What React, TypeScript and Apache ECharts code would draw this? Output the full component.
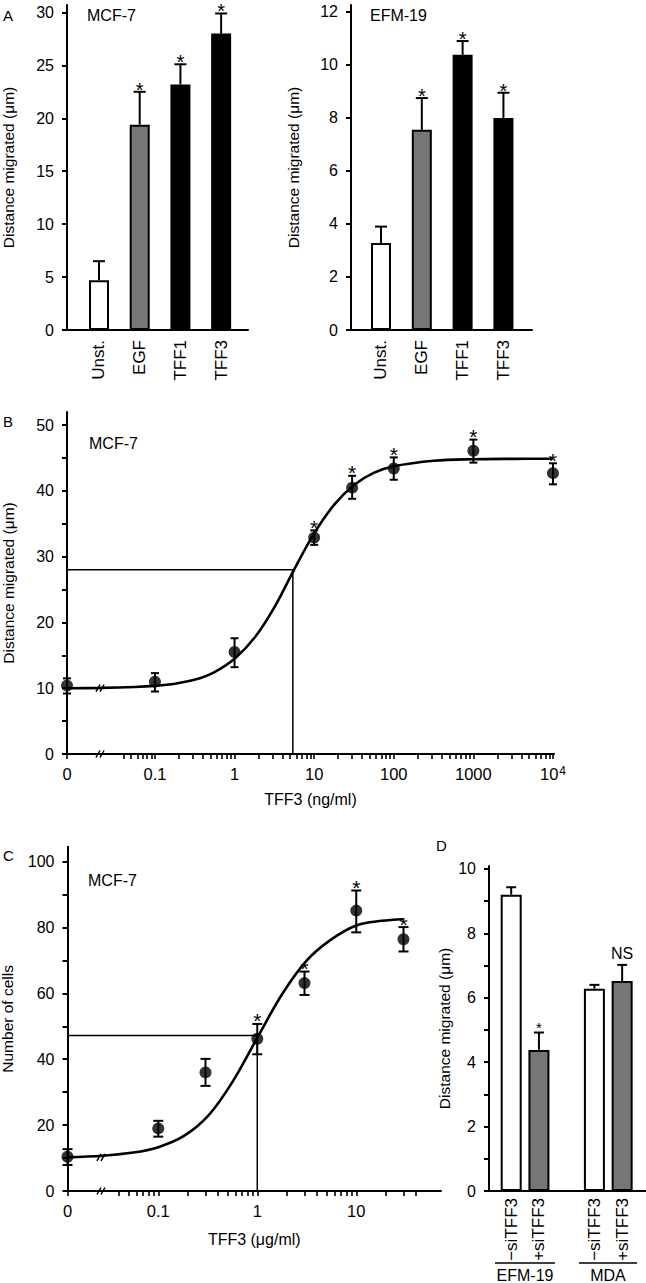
import React, { useEffect, useRef } from "react";
import * as echarts from "echarts";

const FONT = "'Liberation Sans', Arial, Helvetica, sans-serif";
const INK = "#000000";
const GREY = "#767676";

// ---------- Panel A ----------
const aCategories = ["Unst.", "EGF", "TFF1", "TFF3"];
const aSlots = [0, 1, 2, 3];
const aBarColors = ["#ffffff", GREY, INK, INK];
const aMcfMean = [4.7, 19.4, 23.2, 28.0];
const aMcfErrTop = [6.5, 22.5, 25.1, 29.9];
const aEfmMean = [3.28, 7.55, 10.38, 8.0];
const aEfmErrTop = [3.9, 8.75, 10.9, 8.95];
const aMarks = ["", "*", "*", "*"];
const aMcfYTicks = [0, 5, 10, 15, 20, 25, 30];
const aEfmYTicks = [0, 2, 4, 6, 8, 10, 12];

// ---------- Panel B ----------
const bConc = [0, 0.1, 1, 10, 30, 100, 1000, 10000];
const bMean = [10.4, 11.0, 15.5, 32.9, 40.5, 43.4, 46.1, 42.7];
const bLow = [9.2, 9.5, 13.2, 31.8, 38.8, 41.7, 44.3, 41.0];
const bHigh = [11.5, 12.3, 17.6, 34.0, 42.3, 45.1, 47.8, 44.2];
const bMarks = ["", "", "", "*", "*", "*", "*", "*"];
const bCurveConc = [0, 0.021, 0.056, 0.1, 0.18, 0.32, 0.56, 1, 1.8, 3.2, 5.6, 10, 18, 32, 56, 100, 320, 1000, 3200, 10000];
const bCurveVal = [10.0, 10.05, 10.19, 10.36, 10.69, 11.31, 12.46, 14.47, 17.74, 22.42, 28.05, 33.55, 37.95, 40.94, 42.74, 43.75, 44.59, 44.82, 44.88, 44.9];
const bEC50 = 5.4;
const bHalf = 28;
const bBreakConc = 0.021;
const bLabelConc = [0, 0.1, 1, 10, 100, 1000, 10000];
const bLabelText = ["0", "0.1", "1", "10", "100", "1000", "10^4"];
const bYLabels = [0, 10, 20, 30, 40, 50];
const bYTicks = [0, 5, 10, 15, 20, 25, 30, 35, 40, 45, 50];

// ---------- Panel C ----------
const cConc = [0, 0.1, 0.3, 1, 3, 10, 30];
const cMean = [10.4, 19.0, 36.0, 46.2, 63.1, 85.1, 76.4];
const cLow = [7.9, 16.5, 31.9, 41.5, 59.5, 78.5, 72.7];
const cHigh = [12.7, 21.3, 40.1, 50.7, 66.6, 91.2, 80.1];
const cMarks = ["", "", "", "*", "*", "*", "*"];
const cCurveConc = [0, 0.027, 0.056, 0.1, 0.18, 0.32, 0.56, 1, 1.8, 3.2, 5.6, 10, 18, 30];
const cCurveVal = [10.2, 10.7, 11.66, 13.31, 16.63, 22.87, 33.06, 46.5, 59.94, 70.14, 76.37, 80.6, 82.0, 82.5];
const cEC50 = 1;
const cHalf = 47.2;
const cBreakConc = 0.027;
const cLabelConc = [0, 0.1, 1, 10];
const cLabelText = ["0", "0.1", "1", "10"];
const cYLabels = [0, 20, 40, 60, 80, 100];
const cYTicks = [0, 10, 20, 30, 40, 50, 60, 70, 80, 90, 100];

// ---------- Panel D ----------
const dLabels = ["\u2212siTFF3", "+siTFF3", "\u2212siTFF3", "+siTFF3"];
const dSlots = [0, 1, 3, 4];
const dColors = ["#ffffff", GREY, "#ffffff", GREY];
const dMean = [9.2, 4.38, 6.28, 6.52];
const dErrTop = [9.43, 4.92, 6.4, 7.02];
const dMarks = ["", "*", "", "NS"];
const dGroups = ["EFM-19", "MDA"];
const dYLabels = [0, 2, 4, 6, 8, 10];
const dYTicks = [0, 1, 2, 3, 4, 5, 6, 7, 8, 9, 10];

// axis layout constants (positions of the "0" dose on the broken log axes)
const B_P0 = -2.105;
const C_P0 = -1.917;

const pos = (c: number, p0: number) => (c === 0 ? p0 : Math.log10(c));

function minorLogTicks(from: number, to: number): number[] {
  const out: number[] = [];
  for (let e = -3; e <= 5; e++) {
    for (let k = 2; k <= 9; k++) {
      const v = k * Math.pow(10, e);
      if (v >= from - 1e-9 && v <= to + 1e-9) out.push(Math.log10(v));
    }
  }
  return out;
}

const lineSt = { color: INK, width: 2 };
const YS = 16; // y tick label size
const XS = 16.5; // x tick label size
const RS = 17; // rotated category label size

function labelStyle(size: number) {
  return {
    fontSize: size,
    fontFamily: FONT,
    color: INK,
    rich: {
      n: { fontSize: size, fontFamily: FONT, color: INK },
      s: { fontSize: Math.round(size * 0.7), fontFamily: FONT, color: INK, verticalAlign: "top", padding: [0, 0, 0, 1] },
    },
  };
}
const supLabel = (s: string) => {
  const m = s.match(/^(\d+)\^(\d+)$/);
  return m ? `{n|${m[1]}}{s|${m[2]}}` : s;
};

function yAxis(grid: number, max: number, labels: number[], ticks: number[], name: string, nameGap: number) {
  return {
    type: "value",
    gridIndex: grid,
    min: 0,
    max,
    name,
    nameLocation: "middle",
    nameGap,
    nameTextStyle: { fontSize: 15.5, fontFamily: FONT, color: INK },
    axisLine: { show: true, onZero: false, lineStyle: lineSt },
    splitLine: { show: false },
    axisTick: { show: true, length: 5, customValues: ticks, lineStyle: lineSt },
    axisLabel: { customValues: labels, margin: 13, ...labelStyle(YS) },
  };
}

function catXAxis(grid: number, min: number, max: number, slots: number[], labels: string[], margin: number) {
  return {
    type: "value",
    gridIndex: grid,
    min,
    max,
    axisLine: { show: true, onZero: false, lineStyle: lineSt },
    splitLine: { show: false },
    axisTick: { show: false },
    axisLabel: {
      customValues: slots,
      rotate: 90,
      margin,
      ...labelStyle(RS),
      formatter: (v: number) => {
        const i = slots.findIndex((s) => Math.abs(s - v) < 1e-6);
        return i >= 0 ? labels[i] : "";
      },
    },
  };
}

function logXAxis(grid: number, p0: number, max: number, labelConc: number[], labelText: string[], minor: number[], name: string, nameGap: number) {
  const labelPos = labelConc.map((c) => pos(c, p0));
  return {
    type: "value",
    gridIndex: grid,
    min: p0,
    max,
    name,
    nameLocation: "middle",
    nameGap,
    nameTextStyle: { fontSize: 16, fontFamily: FONT, color: INK },
    axisLine: { show: true, onZero: false, lineStyle: lineSt },
    splitLine: { show: false },
    axisTick: { show: true, length: 5, customValues: labelPos.concat(minor), lineStyle: { color: INK, width: 1.6 } },
    axisLabel: {
      customValues: labelPos,
      margin: 11,
      ...labelStyle(XS),
      formatter: (v: number) => {
        const i = labelPos.findIndex((s) => Math.abs(s - v) < 1e-6);
        return i >= 0 ? supLabel(labelText[i]) : "";
      },
    },
  };
}

function errorBars(capW: number, twoSided: boolean, marks: string[], starFont: number, starGap: number) {
  return (params: any, api: any) => {
    const x = api.value(0);
    const lo = api.value(1);
    const hi = api.value(2);
    const t = api.coord([x, hi]);
    const b = api.coord([x, lo]);
    const st = { stroke: INK, lineWidth: 2 };
    const kids: any[] = [
      { type: "line", shape: { x1: t[0], y1: t[1], x2: b[0], y2: b[1] }, style: st },
      { type: "line", shape: { x1: t[0] - capW / 2, y1: t[1], x2: t[0] + capW / 2, y2: t[1] }, style: st },
    ];
    if (twoSided) {
      kids.push({ type: "line", shape: { x1: b[0] - capW / 2, y1: b[1], x2: b[0] + capW / 2, y2: b[1] }, style: st });
    }
    const m = marks[params.dataIndex];
    if (m) {
      const star = m === "*";
      kids.push({
        type: "text",
        style: {
          text: m,
          x: t[0],
          y: star ? t[1] - starGap : t[1] - 3,
          align: "center",
          verticalAlign: star ? "middle" : "bottom",
          fontSize: star ? starFont : 16,
          fontFamily: FONT,
          fill: INK,
        },
      });
    }
    return { type: "group", children: kids };
  };
}

function breakMarks(params: any, api: any) {
  const p = api.coord([api.value(0), api.value(1)]);
  const st = { stroke: INK, lineWidth: 1.5 };
  return {
    type: "group",
    children: [
      { type: "line", shape: { x1: p[0] - 5, y1: p[1] + 3.5, x2: p[0] - 1, y2: p[1] - 3.5 }, style: st },
      { type: "line", shape: { x1: p[0] - 1, y1: p[1] + 3.5, x2: p[0] + 3, y2: p[1] - 3.5 }, style: st },
    ],
  };
}

function txt(text: string, x: number, y: number, size: number, align = "left") {
  return {
    type: "text",
    x,
    y,
    style: { text, fontSize: size, fontFamily: FONT, fill: INK, align, verticalAlign: "middle" },
  };
}

function buildOption() {
  const bMinor = minorLogTicks(0.04, 9000);
  const cMinor = minorLogTicks(0.04, 40);

  const series: any[] = [];

  const addBars = (ax: number, means: number[], tops: number[], slots: number[], colors: string[], marks: string[], width: number, starFont: number, starGap: number, cap: number) => {
    series.push({
      type: "bar",
      xAxisIndex: ax,
      yAxisIndex: ax,
      barWidth: width,
      itemStyle: { borderColor: INK, borderWidth: 2 },
      data: slots.map((s, i) => ({ value: [s, means[i]], itemStyle: { color: colors[i] } })),
    });
    series.push({
      type: "custom",
      xAxisIndex: ax,
      yAxisIndex: ax,
      renderItem: errorBars(cap, false, marks, starFont, starGap),
      encode: { x: 0, y: [1, 2] },
      data: slots.map((s, i) => [s, means[i], tops[i]]),
      z: 3,
    });
  };
  addBars(0, aMcfMean, aMcfErrTop, aSlots, aBarColors, aMarks, 20, 20, 2, 12);
  addBars(1, aEfmMean, aEfmErrTop, aSlots, aBarColors, aMarks, 20, 20, 2, 12);

  const addDose = (ax: number, p0: number, conc: number[], mean: number[], lo: number[], hi: number[], marks: string[], curveConc: number[], curveVal: number[], ec50: number, half: number, breakConc: number, cap: number) => {
    series.push({
      type: "line",
      xAxisIndex: ax,
      yAxisIndex: ax,
      symbol: "none",
      lineStyle: { color: INK, width: 1.5 },
      data: [
        [p0, half],
        [Math.log10(ec50), half],
        [Math.log10(ec50), 0],
      ],
      z: 2,
    });
    series.push({
      type: "line",
      xAxisIndex: ax,
      yAxisIndex: ax,
      symbol: "none",
      smooth: 0.35,
      lineStyle: { color: INK, width: 2.6 },
      data: curveConc.map((c, i) => [pos(c, p0), curveVal[i]]),
      z: 3,
    });
    series.push({
      type: "custom",
      xAxisIndex: ax,
      yAxisIndex: ax,
      renderItem: errorBars(cap, true, marks, 21, 3),
      encode: { x: 0, y: [1, 2] },
      data: conc.map((c, i) => [pos(c, p0), lo[i], hi[i]]),
      z: 4,
    });
    series.push({
      type: "scatter",
      xAxisIndex: ax,
      yAxisIndex: ax,
      symbol: "circle",
      symbolSize: 12,
      itemStyle: { color: INK },
      data: conc.map((c, i) => [pos(c, p0), mean[i]]),
      z: 5,
    });
    series.push({
      type: "custom",
      xAxisIndex: ax,
      yAxisIndex: ax,
      renderItem: breakMarks,
      encode: { x: 0, y: 1 },
      data: [
        [Math.log10(breakConc), 0],
        [Math.log10(breakConc), curveVal[0]],
      ],
      z: 6,
    });
  };
  addDose(2, B_P0, bConc, bMean, bLow, bHigh, bMarks, bCurveConc, bCurveVal, bEC50, bHalf, bBreakConc, 8);
  addDose(3, C_P0, cConc, cMean, cLow, cHigh, cMarks, cCurveConc, cCurveVal, cEC50, cHalf, cBreakConc, 10);

  addBars(4, dMean, dErrTop, dSlots, dColors, dMarks, 21, 15, 5, 10);

  const g = (left: number, top: number, width: number, height: number) => ({ left, top, width, height, containLabel: false, outerBoundsMode: "none" });

  return {
    animation: false,
    backgroundColor: "#ffffff",
    grid: [g(67, 5, 181, 325), g(351, 5, 181, 325), g(67, 412, 487, 342), g(67.5, 846.7, 373.5, 344.3), g(489, 866, 157, 325)],
    xAxis: [
      catXAxis(0, -0.786, 3.66, aSlots, aCategories, 10),
      catXAxis(1, -0.735, 3.7, aSlots, aCategories, 10),
      logXAxis(2, B_P0, 4.013, bLabelConc, bLabelText, bMinor, "TFF3 (ng/ml)", 37),
      logXAxis(3, C_P0, 1.856, cLabelConc, cLabelText, cMinor, "TFF3 (\u03bcg/ml)", 40),
      catXAxis(4, -0.8, 4.86, dSlots, dLabels, 7),
    ],
    yAxis: [
      yAxis(0, 30.7, aMcfYTicks, aMcfYTicks, "Distance migrated (\u03bcm)", 51),
      yAxis(1, 12.26, aEfmYTicks, aEfmYTicks, "Distance migrated (\u03bcm)", 50),
      yAxis(2, 52, bYLabels, bYTicks, "Distance migrated (\u03bcm)", 51),
      yAxis(3, 104.5, cYLabels, cYTicks, "Number of cells", 52),
      yAxis(4, 10.09, dYLabels, dYTicks, "Distance migrated (\u03bcm)", 37),
    ],
    series,
    graphic: [
      txt("A", 3, 15, 15),
      txt("MCF-7", 87, 15, 16),
      txt("EFM-19", 370, 15, 16),
      txt("B", 3, 421, 15),
      txt("MCF-7", 89, 443, 16),
      txt("C", 3, 855, 15),
      txt("MCF-7", 88, 880, 16),
      txt("D", 436, 845, 15),
      { type: "line", shape: { x1: 495, y1: 1263, x2: 555, y2: 1263 }, style: { stroke: INK, lineWidth: 1.5 } },
      { type: "line", shape: { x1: 579, y1: 1263, x2: 637, y2: 1263 }, style: { stroke: INK, lineWidth: 1.5 } },
      txt(dGroups[0], 525, 1275, 16, "center"),
      txt(dGroups[1], 608, 1275, 16, "center"),
    ],
  };
}

export default function App() {
  const ref = useRef<HTMLDivElement>(null);
  useEffect(() => {
    if (!ref.current) return;
    const chart = echarts.init(ref.current, undefined, { renderer: "svg" });
    chart.setOption(buildOption() as any);
    return () => chart.dispose();
  }, []);
  return <div ref={ref} style={{ position: "absolute", left: 0, top: 0, width: 646, height: 1283, background: "#fff" }} />;
}
